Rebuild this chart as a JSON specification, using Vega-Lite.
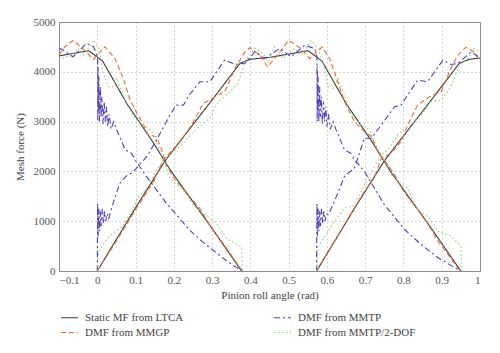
{
  "$schema": "https://vega.github.io/schema/vega-lite/v6.json",
  "width": 421,
  "height": 249,
  "autosize": "none",
  "padding": {"left": 59, "top": 22, "right": 20, "bottom": 82},
  "background": "white",
  "datasets": {
    "pts": [
      {"series":"Static MF from LTCA","tooth":"A","x":-0.1,"y":4319},
      {"series":"Static MF from LTCA","tooth":"A","x":-0.022,"y":4423},
      {"series":"Static MF from LTCA","tooth":"A","x":0.014,"y":4216},
      {"series":"Static MF from LTCA","tooth":"A","x":0.077,"y":3365},
      {"series":"Static MF from LTCA","tooth":"A","x":0.142,"y":2628},
      {"series":"Static MF from LTCA","tooth":"A","x":0.194,"y":1990},
      {"series":"Static MF from LTCA","tooth":"A","x":0.294,"y":919},
      {"series":"Static MF from LTCA","tooth":"A","x":0.377,"y":0},
      {"series":"Static MF from LTCA","tooth":"B","x":0,"y":0},
      {"series":"Static MF from LTCA","tooth":"B","x":0.1,"y":1270},
      {"series":"Static MF from LTCA","tooth":"B","x":0.176,"y":2200},
      {"series":"Static MF from LTCA","tooth":"B","x":0.207,"y":2513},
      {"series":"Static MF from LTCA","tooth":"B","x":0.303,"y":3466},
      {"series":"Static MF from LTCA","tooth":"B","x":0.373,"y":4170},
      {"series":"Static MF from LTCA","tooth":"B","x":0.399,"y":4250},
      {"series":"Static MF from LTCA","tooth":"B","x":0.451,"y":4290},
      {"series":"Static MF from LTCA","tooth":"B","x":0.551,"y":4423},
      {"series":"Static MF from LTCA","tooth":"B","x":0.587,"y":4216},
      {"series":"Static MF from LTCA","tooth":"B","x":0.65,"y":3365},
      {"series":"Static MF from LTCA","tooth":"B","x":0.715,"y":2628},
      {"series":"Static MF from LTCA","tooth":"B","x":0.767,"y":1990},
      {"series":"Static MF from LTCA","tooth":"B","x":0.867,"y":919},
      {"series":"Static MF from LTCA","tooth":"B","x":0.95,"y":0},
      {"series":"Static MF from LTCA","tooth":"C","x":0.573,"y":0},
      {"series":"Static MF from LTCA","tooth":"C","x":0.673,"y":1270},
      {"series":"Static MF from LTCA","tooth":"C","x":0.749,"y":2200},
      {"series":"Static MF from LTCA","tooth":"C","x":0.78,"y":2513},
      {"series":"Static MF from LTCA","tooth":"C","x":0.876,"y":3466},
      {"series":"Static MF from LTCA","tooth":"C","x":0.946,"y":4170},
      {"series":"Static MF from LTCA","tooth":"C","x":0.972,"y":4250},
      {"series":"Static MF from LTCA","tooth":"C","x":1,"y":4275},

      {"series":"DMF from MMGP","tooth":"A","x":-0.1,"y":4337},
      {"series":"DMF from MMGP","tooth":"A","x":-0.085,"y":4500},
      {"series":"DMF from MMGP","tooth":"A","x":-0.063,"y":4630},
      {"series":"DMF from MMGP","tooth":"A","x":-0.04,"y":4480},
      {"series":"DMF from MMGP","tooth":"A","x":-0.01,"y":4250},
      {"series":"DMF from MMGP","tooth":"A","x":0.02,"y":4503},
      {"series":"DMF from MMGP","tooth":"A","x":0.046,"y":4270},
      {"series":"DMF from MMGP","tooth":"A","x":0.068,"y":3868},
      {"series":"DMF from MMGP","tooth":"A","x":0.085,"y":3450},
      {"series":"DMF from MMGP","tooth":"A","x":0.105,"y":3150},
      {"series":"DMF from MMGP","tooth":"A","x":0.12,"y":2950},
      {"series":"DMF from MMGP","tooth":"A","x":0.132,"y":2740},
      {"series":"DMF from MMGP","tooth":"A","x":0.155,"y":2694},
      {"series":"DMF from MMGP","tooth":"A","x":0.17,"y":2400},
      {"series":"DMF from MMGP","tooth":"A","x":0.181,"y":2125},
      {"series":"DMF from MMGP","tooth":"A","x":0.203,"y":1823},
      {"series":"DMF from MMGP","tooth":"A","x":0.216,"y":1723},
      {"series":"DMF from MMGP","tooth":"A","x":0.242,"y":1488},
      {"series":"DMF from MMGP","tooth":"A","x":0.268,"y":1254},
      {"series":"DMF from MMGP","tooth":"A","x":0.294,"y":919},
      {"series":"DMF from MMGP","tooth":"A","x":0.329,"y":551},
      {"series":"DMF from MMGP","tooth":"A","x":0.379,"y":0},
      {"series":"DMF from MMGP","tooth":"B","x":0,"y":0},
      {"series":"DMF from MMGP","tooth":"B","x":0.05,"y":600},
      {"series":"DMF from MMGP","tooth":"B","x":0.1,"y":1230},
      {"series":"DMF from MMGP","tooth":"B","x":0.151,"y":1850},
      {"series":"DMF from MMGP","tooth":"B","x":0.172,"y":2226},
      {"series":"DMF from MMGP","tooth":"B","x":0.195,"y":2420},
      {"series":"DMF from MMGP","tooth":"B","x":0.216,"y":2594},
      {"series":"DMF from MMGP","tooth":"B","x":0.246,"y":2929},
      {"series":"DMF from MMGP","tooth":"B","x":0.277,"y":3365},
      {"series":"DMF from MMGP","tooth":"B","x":0.307,"y":3498},
      {"series":"DMF from MMGP","tooth":"B","x":0.333,"y":3599},
      {"series":"DMF from MMGP","tooth":"B","x":0.36,"y":4069},
      {"series":"DMF from MMGP","tooth":"B","x":0.386,"y":4403},
      {"series":"DMF from MMGP","tooth":"B","x":0.399,"y":4483},
      {"series":"DMF from MMGP","tooth":"B","x":0.425,"y":4337},
      {"series":"DMF from MMGP","tooth":"B","x":0.445,"y":4100},
      {"series":"DMF from MMGP","tooth":"B","x":0.47,"y":4330},
      {"series":"DMF from MMGP","tooth":"B","x":0.5,"y":4630},
      {"series":"DMF from MMGP","tooth":"B","x":0.53,"y":4480},
      {"series":"DMF from MMGP","tooth":"B","x":0.555,"y":4265},
      {"series":"DMF from MMGP","tooth":"B","x":0.588,"y":4500},
      {"series":"DMF from MMGP","tooth":"B","x":0.607,"y":4267},
      {"series":"DMF from MMGP","tooth":"B","x":0.624,"y":3900},
      {"series":"DMF from MMGP","tooth":"B","x":0.646,"y":3400},
      {"series":"DMF from MMGP","tooth":"B","x":0.672,"y":3000},
      {"series":"DMF from MMGP","tooth":"B","x":0.698,"y":2800},
      {"series":"DMF from MMGP","tooth":"B","x":0.716,"y":2700},
      {"series":"DMF from MMGP","tooth":"B","x":0.733,"y":2400},
      {"series":"DMF from MMGP","tooth":"B","x":0.759,"y":2133},
      {"series":"DMF from MMGP","tooth":"B","x":0.777,"y":1933},
      {"series":"DMF from MMGP","tooth":"B","x":0.8,"y":1600},
      {"series":"DMF from MMGP","tooth":"B","x":0.82,"y":1400},
      {"series":"DMF from MMGP","tooth":"B","x":0.855,"y":1067},
      {"series":"DMF from MMGP","tooth":"B","x":0.89,"y":600},
      {"series":"DMF from MMGP","tooth":"B","x":0.916,"y":333},
      {"series":"DMF from MMGP","tooth":"B","x":0.948,"y":0},
      {"series":"DMF from MMGP","tooth":"C","x":0.573,"y":0},
      {"series":"DMF from MMGP","tooth":"C","x":0.61,"y":470},
      {"series":"DMF from MMGP","tooth":"C","x":0.646,"y":933},
      {"series":"DMF from MMGP","tooth":"C","x":0.698,"y":1600},
      {"series":"DMF from MMGP","tooth":"C","x":0.724,"y":1867},
      {"series":"DMF from MMGP","tooth":"C","x":0.742,"y":2267},
      {"series":"DMF from MMGP","tooth":"C","x":0.768,"y":2367},
      {"series":"DMF from MMGP","tooth":"C","x":0.794,"y":2600},
      {"series":"DMF from MMGP","tooth":"C","x":0.811,"y":2933},
      {"series":"DMF from MMGP","tooth":"C","x":0.837,"y":3333},
      {"series":"DMF from MMGP","tooth":"C","x":0.868,"y":3500},
      {"series":"DMF from MMGP","tooth":"C","x":0.898,"y":3600},
      {"series":"DMF from MMGP","tooth":"C","x":0.924,"y":4067},
      {"series":"DMF from MMGP","tooth":"C","x":0.942,"y":4333},
      {"series":"DMF from MMGP","tooth":"C","x":0.963,"y":4490},
      {"series":"DMF from MMGP","tooth":"C","x":0.985,"y":4400},
      {"series":"DMF from MMGP","tooth":"C","x":1,"y":4200},

      {"series":"DMF from MMTP","tooth":"A","x":-0.1,"y":4447},
      {"series":"DMF from MMTP","tooth":"A","x":-0.096,"y":4467},
      {"series":"DMF from MMTP","tooth":"A","x":-0.063,"y":4302},
      {"series":"DMF from MMTP","tooth":"A","x":-0.028,"y":4571},
      {"series":"DMF from MMTP","tooth":"A","x":-0.01,"y":4503},
      {"series":"DMF from MMTP","tooth":"A","x":-0.004,"y":4400},
      {"series":"DMF from MMTP","tooth":"A","x":0.001,"y":4300},
      {"series":"DMF from MMTP","tooth":"A","x":0.0015,"y":3000},
      {"series":"DMF from MMTP","tooth":"A","x":0.002,"y":4100},
      {"series":"DMF from MMTP","tooth":"A","x":0.003,"y":3200},
      {"series":"DMF from MMTP","tooth":"A","x":0.004,"y":3900},
      {"series":"DMF from MMTP","tooth":"A","x":0.006,"y":3000},
      {"series":"DMF from MMTP","tooth":"A","x":0.008,"y":3700},
      {"series":"DMF from MMTP","tooth":"A","x":0.01,"y":3100},
      {"series":"DMF from MMTP","tooth":"A","x":0.012,"y":3500},
      {"series":"DMF from MMTP","tooth":"A","x":0.015,"y":2950},
      {"series":"DMF from MMTP","tooth":"A","x":0.018,"y":3400},
      {"series":"DMF from MMTP","tooth":"A","x":0.021,"y":3000},
      {"series":"DMF from MMTP","tooth":"A","x":0.024,"y":3300},
      {"series":"DMF from MMTP","tooth":"A","x":0.027,"y":2900},
      {"series":"DMF from MMTP","tooth":"A","x":0.031,"y":3150},
      {"series":"DMF from MMTP","tooth":"A","x":0.036,"y":2850},
      {"series":"DMF from MMTP","tooth":"A","x":0.043,"y":3000},
      {"series":"DMF from MMTP","tooth":"A","x":0.051,"y":2830},
      {"series":"DMF from MMTP","tooth":"A","x":0.073,"y":2433},
      {"series":"DMF from MMTP","tooth":"A","x":0.09,"y":2360},
      {"series":"DMF from MMTP","tooth":"A","x":0.099,"y":2233},
      {"series":"DMF from MMTP","tooth":"A","x":0.129,"y":1890},
      {"series":"DMF from MMTP","tooth":"A","x":0.151,"y":1667},
      {"series":"DMF from MMTP","tooth":"A","x":0.181,"y":1355},
      {"series":"DMF from MMTP","tooth":"A","x":0.242,"y":818},
      {"series":"DMF from MMTP","tooth":"A","x":0.273,"y":600},
      {"series":"DMF from MMTP","tooth":"A","x":0.303,"y":416},
      {"series":"DMF from MMTP","tooth":"A","x":0.33,"y":250},
      {"series":"DMF from MMTP","tooth":"A","x":0.355,"y":115},
      {"series":"DMF from MMTP","tooth":"A","x":0.379,"y":0},
      {"series":"DMF from MMTP","tooth":"B","x":0,"y":0},
      {"series":"DMF from MMTP","tooth":"B","x":0.001,"y":1350},
      {"series":"DMF from MMTP","tooth":"B","x":0.002,"y":700},
      {"series":"DMF from MMTP","tooth":"B","x":0.004,"y":1250},
      {"series":"DMF from MMTP","tooth":"B","x":0.006,"y":800},
      {"series":"DMF from MMTP","tooth":"B","x":0.008,"y":1200},
      {"series":"DMF from MMTP","tooth":"B","x":0.01,"y":900},
      {"series":"DMF from MMTP","tooth":"B","x":0.013,"y":1250},
      {"series":"DMF from MMTP","tooth":"B","x":0.016,"y":950},
      {"series":"DMF from MMTP","tooth":"B","x":0.019,"y":1200},
      {"series":"DMF from MMTP","tooth":"B","x":0.022,"y":1000},
      {"series":"DMF from MMTP","tooth":"B","x":0.026,"y":1150},
      {"series":"DMF from MMTP","tooth":"B","x":0.03,"y":1050},
      {"series":"DMF from MMTP","tooth":"B","x":0.035,"y":1200},
      {"series":"DMF from MMTP","tooth":"B","x":0.045,"y":1450},
      {"series":"DMF from MMTP","tooth":"B","x":0.059,"y":1757},
      {"series":"DMF from MMTP","tooth":"B","x":0.075,"y":1900},
      {"series":"DMF from MMTP","tooth":"B","x":0.094,"y":1990},
      {"series":"DMF from MMTP","tooth":"B","x":0.129,"y":2292},
      {"series":"DMF from MMTP","tooth":"B","x":0.155,"y":2628},
      {"series":"DMF from MMTP","tooth":"B","x":0.164,"y":2762},
      {"series":"DMF from MMTP","tooth":"B","x":0.19,"y":3130},
      {"series":"DMF from MMTP","tooth":"B","x":0.206,"y":3330},
      {"series":"DMF from MMTP","tooth":"B","x":0.225,"y":3330},
      {"series":"DMF from MMTP","tooth":"B","x":0.24,"y":3530},
      {"series":"DMF from MMTP","tooth":"B","x":0.268,"y":3800},
      {"series":"DMF from MMTP","tooth":"B","x":0.294,"y":3800},
      {"series":"DMF from MMTP","tooth":"B","x":0.333,"y":4236},
      {"series":"DMF from MMTP","tooth":"B","x":0.36,"y":4150},
      {"series":"DMF from MMTP","tooth":"B","x":0.386,"y":4170},
      {"series":"DMF from MMTP","tooth":"B","x":0.412,"y":4403},
      {"series":"DMF from MMTP","tooth":"B","x":0.437,"y":4267},
      {"series":"DMF from MMTP","tooth":"B","x":0.477,"y":4467},
      {"series":"DMF from MMTP","tooth":"B","x":0.507,"y":4300},
      {"series":"DMF from MMTP","tooth":"B","x":0.542,"y":4533},
      {"series":"DMF from MMTP","tooth":"B","x":0.568,"y":4467},
      {"series":"DMF from MMTP","tooth":"B","x":0.574,"y":4300},
      {"series":"DMF from MMTP","tooth":"B","x":0.5745,"y":3000},
      {"series":"DMF from MMTP","tooth":"B","x":0.575,"y":4100},
      {"series":"DMF from MMTP","tooth":"B","x":0.576,"y":3200},
      {"series":"DMF from MMTP","tooth":"B","x":0.577,"y":3900},
      {"series":"DMF from MMTP","tooth":"B","x":0.579,"y":3000},
      {"series":"DMF from MMTP","tooth":"B","x":0.581,"y":3700},
      {"series":"DMF from MMTP","tooth":"B","x":0.583,"y":3100},
      {"series":"DMF from MMTP","tooth":"B","x":0.585,"y":3500},
      {"series":"DMF from MMTP","tooth":"B","x":0.588,"y":2950},
      {"series":"DMF from MMTP","tooth":"B","x":0.591,"y":3400},
      {"series":"DMF from MMTP","tooth":"B","x":0.594,"y":3000},
      {"series":"DMF from MMTP","tooth":"B","x":0.597,"y":3300},
      {"series":"DMF from MMTP","tooth":"B","x":0.6,"y":2900},
      {"series":"DMF from MMTP","tooth":"B","x":0.604,"y":3150},
      {"series":"DMF from MMTP","tooth":"B","x":0.609,"y":2850},
      {"series":"DMF from MMTP","tooth":"B","x":0.616,"y":3000},
      {"series":"DMF from MMTP","tooth":"B","x":0.624,"y":2833},
      {"series":"DMF from MMTP","tooth":"B","x":0.646,"y":2433},
      {"series":"DMF from MMTP","tooth":"B","x":0.663,"y":2360},
      {"series":"DMF from MMTP","tooth":"B","x":0.672,"y":2233},
      {"series":"DMF from MMTP","tooth":"B","x":0.698,"y":2000},
      {"series":"DMF from MMTP","tooth":"B","x":0.724,"y":1667},
      {"series":"DMF from MMTP","tooth":"B","x":0.75,"y":1333},
      {"series":"DMF from MMTP","tooth":"B","x":0.803,"y":833},
      {"series":"DMF from MMTP","tooth":"B","x":0.846,"y":533},
      {"series":"DMF from MMTP","tooth":"B","x":0.89,"y":267},
      {"series":"DMF from MMTP","tooth":"B","x":0.942,"y":33},
      {"series":"DMF from MMTP","tooth":"B","x":0.952,"y":0},
      {"series":"DMF from MMTP","tooth":"C","x":0.573,"y":0},
      {"series":"DMF from MMTP","tooth":"C","x":0.574,"y":1350},
      {"series":"DMF from MMTP","tooth":"C","x":0.575,"y":700},
      {"series":"DMF from MMTP","tooth":"C","x":0.577,"y":1250},
      {"series":"DMF from MMTP","tooth":"C","x":0.579,"y":800},
      {"series":"DMF from MMTP","tooth":"C","x":0.581,"y":1200},
      {"series":"DMF from MMTP","tooth":"C","x":0.583,"y":900},
      {"series":"DMF from MMTP","tooth":"C","x":0.586,"y":1250},
      {"series":"DMF from MMTP","tooth":"C","x":0.589,"y":950},
      {"series":"DMF from MMTP","tooth":"C","x":0.592,"y":1200},
      {"series":"DMF from MMTP","tooth":"C","x":0.595,"y":1000},
      {"series":"DMF from MMTP","tooth":"C","x":0.599,"y":1150},
      {"series":"DMF from MMTP","tooth":"C","x":0.603,"y":1133},
      {"series":"DMF from MMTP","tooth":"C","x":0.608,"y":1200},
      {"series":"DMF from MMTP","tooth":"C","x":0.625,"y":1500},
      {"series":"DMF from MMTP","tooth":"C","x":0.646,"y":1900},
      {"series":"DMF from MMTP","tooth":"C","x":0.672,"y":2067},
      {"series":"DMF from MMTP","tooth":"C","x":0.698,"y":2667},
      {"series":"DMF from MMTP","tooth":"C","x":0.716,"y":2667},
      {"series":"DMF from MMTP","tooth":"C","x":0.742,"y":2933},
      {"series":"DMF from MMTP","tooth":"C","x":0.777,"y":3300},
      {"series":"DMF from MMTP","tooth":"C","x":0.794,"y":3333},
      {"series":"DMF from MMTP","tooth":"C","x":0.811,"y":3533},
      {"series":"DMF from MMTP","tooth":"C","x":0.837,"y":3833},
      {"series":"DMF from MMTP","tooth":"C","x":0.863,"y":3800},
      {"series":"DMF from MMTP","tooth":"C","x":0.903,"y":4233},
      {"series":"DMF from MMTP","tooth":"C","x":0.924,"y":4147},
      {"series":"DMF from MMTP","tooth":"C","x":0.942,"y":4167},
      {"series":"DMF from MMTP","tooth":"C","x":0.977,"y":4400},
      {"series":"DMF from MMTP","tooth":"C","x":1,"y":4280},

      {"series":"DMF from MMTP/2-DOF","tooth":"A","x":-0.1,"y":4236},
      {"series":"DMF from MMTP/2-DOF","tooth":"A","x":-0.085,"y":4300},
      {"series":"DMF from MMTP/2-DOF","tooth":"A","x":-0.07,"y":4300},
      {"series":"DMF from MMTP/2-DOF","tooth":"A","x":-0.05,"y":4471},
      {"series":"DMF from MMTP/2-DOF","tooth":"A","x":-0.035,"y":4333},
      {"series":"DMF from MMTP/2-DOF","tooth":"A","x":-0.01,"y":4638},
      {"series":"DMF from MMTP/2-DOF","tooth":"A","x":0.004,"y":4467},
      {"series":"DMF from MMTP/2-DOF","tooth":"A","x":0.016,"y":3968},
      {"series":"DMF from MMTP/2-DOF","tooth":"A","x":0.029,"y":3700},
      {"series":"DMF from MMTP/2-DOF","tooth":"A","x":0.04,"y":3700},
      {"series":"DMF from MMTP/2-DOF","tooth":"A","x":0.051,"y":3868},
      {"series":"DMF from MMTP/2-DOF","tooth":"A","x":0.077,"y":3331},
      {"series":"DMF from MMTP/2-DOF","tooth":"A","x":0.098,"y":3064},
      {"series":"DMF from MMTP/2-DOF","tooth":"A","x":0.12,"y":2933},
      {"series":"DMF from MMTP/2-DOF","tooth":"A","x":0.14,"y":2833},
      {"series":"DMF from MMTP/2-DOF","tooth":"A","x":0.16,"y":2480},
      {"series":"DMF from MMTP/2-DOF","tooth":"A","x":0.19,"y":1850},
      {"series":"DMF from MMTP/2-DOF","tooth":"A","x":0.225,"y":1622},
      {"series":"DMF from MMTP/2-DOF","tooth":"A","x":0.251,"y":1321},
      {"series":"DMF from MMTP/2-DOF","tooth":"A","x":0.294,"y":1053},
      {"series":"DMF from MMTP/2-DOF","tooth":"A","x":0.312,"y":953},
      {"series":"DMF from MMTP/2-DOF","tooth":"A","x":0.338,"y":651},
      {"series":"DMF from MMTP/2-DOF","tooth":"A","x":0.377,"y":483},
      {"series":"DMF from MMTP/2-DOF","tooth":"A","x":0.379,"y":0},
      {"series":"DMF from MMTP/2-DOF","tooth":"B","x":0,"y":0},
      {"series":"DMF from MMTP/2-DOF","tooth":"B","x":0.004,"y":400},
      {"series":"DMF from MMTP/2-DOF","tooth":"B","x":0.029,"y":684},
      {"series":"DMF from MMTP/2-DOF","tooth":"B","x":0.064,"y":885},
      {"series":"DMF from MMTP/2-DOF","tooth":"B","x":0.09,"y":1186},
      {"series":"DMF from MMTP/2-DOF","tooth":"B","x":0.107,"y":1488},
      {"series":"DMF from MMTP/2-DOF","tooth":"B","x":0.133,"y":1689},
      {"series":"DMF from MMTP/2-DOF","tooth":"B","x":0.151,"y":1990},
      {"series":"DMF from MMTP/2-DOF","tooth":"B","x":0.168,"y":2159},
      {"series":"DMF from MMTP/2-DOF","tooth":"B","x":0.19,"y":2350},
      {"series":"DMF from MMTP/2-DOF","tooth":"B","x":0.22,"y":2527},
      {"series":"DMF from MMTP/2-DOF","tooth":"B","x":0.251,"y":2795},
      {"series":"DMF from MMTP/2-DOF","tooth":"B","x":0.275,"y":2950},
      {"series":"DMF from MMTP/2-DOF","tooth":"B","x":0.294,"y":3064},
      {"series":"DMF from MMTP/2-DOF","tooth":"B","x":0.316,"y":3398},
      {"series":"DMF from MMTP/2-DOF","tooth":"B","x":0.346,"y":3599},
      {"series":"DMF from MMTP/2-DOF","tooth":"B","x":0.368,"y":3767},
      {"series":"DMF from MMTP/2-DOF","tooth":"B","x":0.386,"y":4202},
      {"series":"DMF from MMTP/2-DOF","tooth":"B","x":0.412,"y":4471},
      {"series":"DMF from MMTP/2-DOF","tooth":"B","x":0.433,"y":4370},
      {"series":"DMF from MMTP/2-DOF","tooth":"B","x":0.446,"y":4200},
      {"series":"DMF from MMTP/2-DOF","tooth":"B","x":0.463,"y":4500},
      {"series":"DMF from MMTP/2-DOF","tooth":"B","x":0.485,"y":4267},
      {"series":"DMF from MMTP/2-DOF","tooth":"B","x":0.516,"y":4467},
      {"series":"DMF from MMTP/2-DOF","tooth":"B","x":0.533,"y":4333},
      {"series":"DMF from MMTP/2-DOF","tooth":"B","x":0.559,"y":4633},
      {"series":"DMF from MMTP/2-DOF","tooth":"B","x":0.577,"y":4467},
      {"series":"DMF from MMTP/2-DOF","tooth":"B","x":0.594,"y":4067},
      {"series":"DMF from MMTP/2-DOF","tooth":"B","x":0.603,"y":3700},
      {"series":"DMF from MMTP/2-DOF","tooth":"B","x":0.616,"y":3667},
      {"series":"DMF from MMTP/2-DOF","tooth":"B","x":0.629,"y":3867},
      {"series":"DMF from MMTP/2-DOF","tooth":"B","x":0.646,"y":3533},
      {"series":"DMF from MMTP/2-DOF","tooth":"B","x":0.663,"y":3133},
      {"series":"DMF from MMTP/2-DOF","tooth":"B","x":0.69,"y":2933},
      {"series":"DMF from MMTP/2-DOF","tooth":"B","x":0.711,"y":2833},
      {"series":"DMF from MMTP/2-DOF","tooth":"B","x":0.73,"y":2500},
      {"series":"DMF from MMTP/2-DOF","tooth":"B","x":0.75,"y":2200},
      {"series":"DMF from MMTP/2-DOF","tooth":"B","x":0.768,"y":1933},
      {"series":"DMF from MMTP/2-DOF","tooth":"B","x":0.785,"y":1800},
      {"series":"DMF from MMTP/2-DOF","tooth":"B","x":0.811,"y":1667},
      {"series":"DMF from MMTP/2-DOF","tooth":"B","x":0.837,"y":1233},
      {"series":"DMF from MMTP/2-DOF","tooth":"B","x":0.868,"y":1067},
      {"series":"DMF from MMTP/2-DOF","tooth":"B","x":0.89,"y":800},
      {"series":"DMF from MMTP/2-DOF","tooth":"B","x":0.924,"y":700},
      {"series":"DMF from MMTP/2-DOF","tooth":"B","x":0.95,"y":500},
      {"series":"DMF from MMTP/2-DOF","tooth":"B","x":0.952,"y":0},
      {"series":"DMF from MMTP/2-DOF","tooth":"C","x":0.573,"y":0},
      {"series":"DMF from MMTP/2-DOF","tooth":"C","x":0.577,"y":500},
      {"series":"DMF from MMTP/2-DOF","tooth":"C","x":0.598,"y":733},
      {"series":"DMF from MMTP/2-DOF","tooth":"C","x":0.62,"y":1000},
      {"series":"DMF from MMTP/2-DOF","tooth":"C","x":0.646,"y":1267},
      {"series":"DMF from MMTP/2-DOF","tooth":"C","x":0.668,"y":1300},
      {"series":"DMF from MMTP/2-DOF","tooth":"C","x":0.69,"y":1600},
      {"series":"DMF from MMTP/2-DOF","tooth":"C","x":0.716,"y":2000},
      {"series":"DMF from MMTP/2-DOF","tooth":"C","x":0.742,"y":2333},
      {"series":"DMF from MMTP/2-DOF","tooth":"C","x":0.763,"y":2467},
      {"series":"DMF from MMTP/2-DOF","tooth":"C","x":0.785,"y":2733},
      {"series":"DMF from MMTP/2-DOF","tooth":"C","x":0.803,"y":2867},
      {"series":"DMF from MMTP/2-DOF","tooth":"C","x":0.82,"y":2933},
      {"series":"DMF from MMTP/2-DOF","tooth":"C","x":0.846,"y":3133},
      {"series":"DMF from MMTP/2-DOF","tooth":"C","x":0.872,"y":3400},
      {"series":"DMF from MMTP/2-DOF","tooth":"C","x":0.898,"y":3433},
      {"series":"DMF from MMTP/2-DOF","tooth":"C","x":0.924,"y":3700},
      {"series":"DMF from MMTP/2-DOF","tooth":"C","x":0.946,"y":4133},
      {"series":"DMF from MMTP/2-DOF","tooth":"C","x":0.968,"y":4267},
      {"series":"DMF from MMTP/2-DOF","tooth":"C","x":0.985,"y":4467},
      {"series":"DMF from MMTP/2-DOF","tooth":"C","x":1,"y":4400}
    ]
  },
  "data": {"name": "pts"},
  "mark": {"type": "line", "strokeWidth": 1.1, "clip": true},
  "encoding": {
    "x": {
      "field": "x", "type": "quantitative",
      "scale": {"domain": [-0.1, 1], "nice": false, "zero": false},
      "axis": {"title": "Pinion roll angle (rad)", "values": [-0.1, 0, 0.1, 0.2, 0.3, 0.4, 0.5, 0.6, 0.7, 0.8, 0.9, 1], "format": "~g", "labelPadding": 3, "titlePadding": 4}
    },
    "y": {
      "field": "y", "type": "quantitative",
      "scale": {"domain": [0, 5000], "nice": false},
      "axis": {"title": "Mesh force (N)", "values": [0, 1000, 2000, 3000, 4000, 5000], "format": "d", "labelPadding": 4, "titlePadding": 8}
    },
    "color": {
      "field": "series", "type": "nominal",
      "scale": {
        "domain": ["Static MF from LTCA", "DMF from MMGP", "DMF from MMTP", "DMF from MMTP/2-DOF"],
        "range": ["#3c3c3c", "#ea6a32", "#4d3fbf", "#93cc78"]
      },
      "legend": {"title": null, "orient": "none", "legendX": 1, "legendY": 286, "columns": 2, "columnPadding": 87}
    },
    "strokeDash": {
      "field": "series", "type": "nominal",
      "scale": {
        "domain": ["Static MF from LTCA", "DMF from MMGP", "DMF from MMTP", "DMF from MMTP/2-DOF"],
        "range": [[1, 0], [5, 3], [6, 3, 2, 3], [1.5, 2.5]]
      },
      "legend": {"title": null, "orient": "none", "legendX": 1, "legendY": 286, "columns": 2, "columnPadding": 87}
    },
    "detail": {"field": "tooth", "type": "nominal"}
  },
  "config": {
    "view": {"stroke": "#8a8a8a", "strokeWidth": 1},
    "axis": {
      "labelFont": "Liberation Serif, serif", "titleFont": "Liberation Serif, serif",
      "labelFontSize": 11, "titleFontSize": 11, "titleFontWeight": "normal",
      "labelColor": "#555555", "titleColor": "#444444",
      "domain": false, "ticks": false,
      "gridDash": [1, 3], "gridColor": "#9a9a9a", "gridWidth": 0.8
    },
    "legend": {
      "symbolType": "stroke", "symbolSize": 289, "symbolStrokeWidth": 1.2,
      "labelFont": "Liberation Serif, serif", "labelFontSize": 11, "labelColor": "#444444",
      "labelOffset": 6, "padding": 0, "rowPadding": -2
    }
  }
}
